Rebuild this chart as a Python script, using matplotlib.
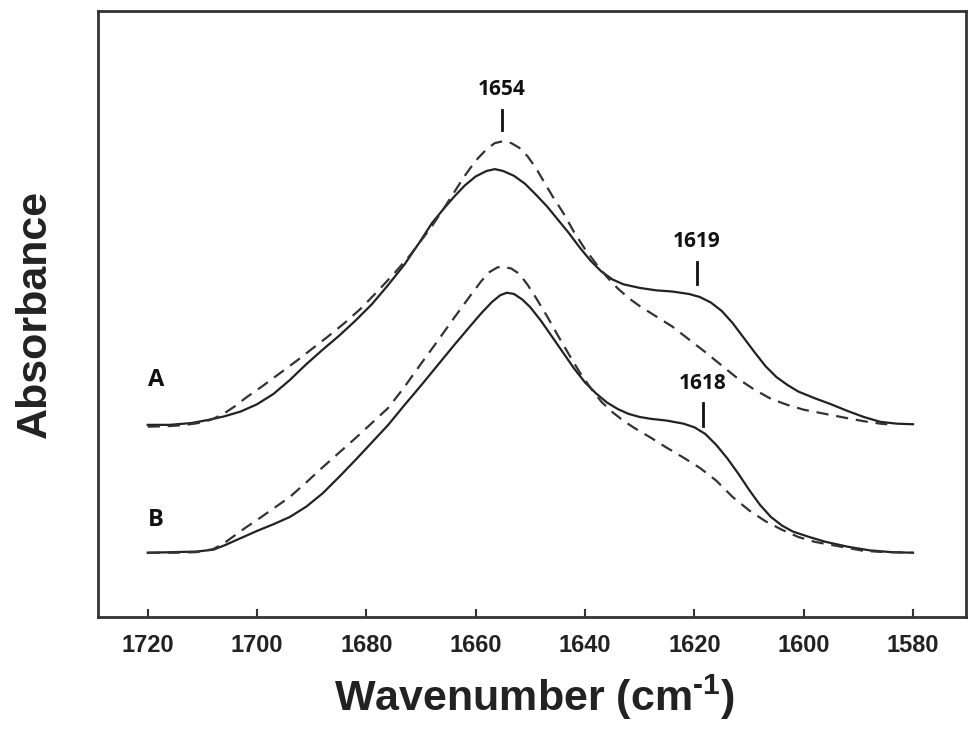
import matplotlib as mpl
import matplotlib.pyplot as plt
import numpy as np

mpl.rcParams['font.family'] = ['Liberation Sans', 'DejaVu Sans']
mpl.rcParams['mathtext.fontset'] = 'custom'
mpl.rcParams['mathtext.rm'] = 'Liberation Sans:bold'
mpl.rcParams['mathtext.bf'] = 'Liberation Sans:bold'

# spectrum A (upper) - wavenumber (cm-1) and absorbance (a.u.)
a_solid_wn = [1720, 1716, 1712, 1709, 1706, 1703, 1700, 1697, 1694, 1691, 1688, 1685, 1682,
              1679, 1676, 1673, 1670, 1668, 1666, 1664, 1662, 1660, 1658, 1656.5, 1655, 1653,
              1651, 1649, 1647, 1645, 1643, 1641, 1639, 1637, 1635, 1633, 1630, 1627, 1624,
              1621, 1619, 1617, 1615, 1613, 1611, 1609, 1607, 1605, 1603, 1601, 1598, 1595,
              1592, 1589, 1586, 1583, 1580]
a_solid = [0.317, 0.317, 0.320, 0.325, 0.331, 0.339, 0.351, 0.368, 0.391, 0.417, 0.441, 0.464, 0.489,
           0.516, 0.548, 0.582, 0.622, 0.650, 0.672, 0.693, 0.712, 0.727, 0.736, 0.739, 0.736, 0.728,
           0.715, 0.697, 0.678, 0.656, 0.634, 0.610, 0.588, 0.570, 0.557, 0.549, 0.543, 0.539, 0.537,
           0.533, 0.528, 0.519, 0.505, 0.485, 0.461, 0.437, 0.414, 0.396, 0.383, 0.372, 0.361, 0.351,
           0.340, 0.330, 0.322, 0.319, 0.318]

a_dash_wn = [1720, 1716, 1713, 1710, 1708, 1706, 1704, 1702, 1699, 1696, 1693, 1690, 1687, 1684,
             1681, 1678, 1675, 1672, 1670, 1668, 1666, 1664, 1662, 1660, 1658, 1656.5, 1655, 1653.5,
             1652, 1650.5, 1649, 1647.5, 1646, 1644, 1642, 1640, 1638, 1636, 1634, 1632, 1630, 1627,
             1624, 1621, 1618, 1615, 1612, 1609, 1606, 1603, 1600, 1596, 1592, 1589, 1586, 1584.7]
a_dash = [0.314, 0.315, 0.317, 0.321, 0.327, 0.336, 0.348, 0.362, 0.381, 0.401, 0.421, 0.442, 0.463, 0.485,
          0.509, 0.537, 0.566, 0.597, 0.621, 0.645, 0.672, 0.700, 0.728, 0.753, 0.772, 0.782, 0.785, 0.782,
          0.774, 0.760, 0.741, 0.718, 0.695, 0.667, 0.635, 0.607, 0.583, 0.561, 0.542, 0.526, 0.513, 0.496,
          0.479, 0.458, 0.437, 0.415, 0.393, 0.375, 0.360, 0.350, 0.342, 0.335, 0.328, 0.323, 0.319, 0.318]

# spectrum B (lower)
b_solid_wn = [1720, 1715, 1711, 1708, 1706, 1704, 1702, 1700, 1697, 1694, 1691, 1688, 1685, 1682,
              1679, 1676, 1673, 1670, 1667, 1664, 1661, 1659, 1657, 1655.5, 1654.3, 1653, 1651.5,
              1650, 1648, 1646, 1644, 1642, 1640, 1638, 1636, 1634, 1632, 1630, 1628, 1625, 1622,
              1620, 1618, 1616, 1614, 1612, 1610, 1608, 1606, 1604, 1602, 1599, 1596, 1592, 1588,
              1584, 1580]
b_solid = [0.106, 0.107, 0.108, 0.111, 0.118, 0.126, 0.134, 0.142, 0.153, 0.165, 0.182, 0.204, 0.231, 0.259,
           0.288, 0.317, 0.350, 0.382, 0.415, 0.448, 0.480, 0.501, 0.520, 0.531, 0.535, 0.533, 0.524,
           0.511, 0.488, 0.462, 0.436, 0.410, 0.387, 0.369, 0.354, 0.343, 0.335, 0.330, 0.327, 0.324, 0.319,
           0.313, 0.302, 0.284, 0.262, 0.237, 0.210, 0.185, 0.165, 0.151, 0.141, 0.132, 0.124, 0.116, 0.110,
           0.107, 0.106]

b_dash_wn = [1720, 1715, 1711, 1708, 1706, 1704, 1702, 1700, 1697, 1694, 1691, 1688, 1685, 1682,
             1679, 1676, 1673, 1670, 1667, 1664, 1661, 1659, 1657.5, 1656, 1655, 1653.5, 1652, 1650.5,
             1649, 1647, 1645, 1643, 1641, 1639, 1637, 1635, 1633, 1631, 1628, 1625, 1622, 1619,
             1616, 1613, 1610, 1607, 1604, 1601, 1598, 1595, 1592, 1589, 1585, 1580]
b_dash = [0.106, 0.106, 0.107, 0.112, 0.122, 0.135, 0.148, 0.160, 0.179, 0.198, 0.222, 0.247, 0.271, 0.295,
          0.320, 0.345, 0.380, 0.418, 0.455, 0.493, 0.530, 0.554, 0.569, 0.577, 0.578, 0.575, 0.566, 0.548,
          0.527, 0.497, 0.465, 0.434, 0.404, 0.378, 0.355, 0.338, 0.324, 0.312, 0.296, 0.279, 0.263, 0.246,
          0.225, 0.198, 0.176, 0.158, 0.144, 0.132, 0.124, 0.119, 0.114, 0.109, 0.107, 0.106]

# peak markers
peak_labels = ['1654', '1619', '1618']
peak_wn = [1655.2, 1619.5, 1618.4]
peak_lo = [0.804, 0.550, 0.315]
peak_hi = [0.837, 0.586, 0.353]
peak_text_y = [0.870, 0.619, 0.386]

xticks = [1720, 1700, 1680, 1660, 1640, 1620, 1600, 1580]

fig = plt.figure(figsize=(9.68, 7.31), dpi=100)
ax = fig.add_axes([0.1012, 0.156, 0.8968, 0.829])

ax.plot(a_solid_wn, a_solid, color='#222222', lw=1.6)
ax.plot(a_dash_wn, a_dash, color='#333333', lw=1.6, dashes=(5.5, 3.5))
ax.plot(b_solid_wn, b_solid, color='#222222', lw=1.6)
ax.plot(b_dash_wn, b_dash, color='#333333', lw=1.6, dashes=(5.5, 3.5))

for lab, x, lo, hi, ty in zip(peak_labels, peak_wn, peak_lo, peak_hi, peak_text_y):
    ax.plot([x, x], [lo, hi], color='#111111', lw=2)
    ax.text(x, ty, lab, ha='center', va='center', fontsize=15,
            fontweight='bold', family=['Open Sans', 'DejaVu Sans'], color='#111111')

ax.text(1720, 0.391, 'A', ha='left', va='center', fontsize=17,
        fontweight='bold', family=['Open Sans', 'DejaVu Sans'], color='#111111')
ax.text(1720, 0.160, 'B', ha='left', va='center', fontsize=17,
        fontweight='bold', family=['Open Sans', 'DejaVu Sans'], color='#111111')

ax.set_xlim(1729.1, 1570.3)
ax.set_ylim(0, 1)
ax.set_xticks(xticks)
ax.set_xticklabels([str(t) for t in xticks], fontsize=17, fontweight='bold', color='#222222')
ax.set_yticks([])
ax.tick_params(axis='x', direction='in', length=6, width=1.5, pad=12, color='#333333')
for sp in ax.spines.values():
    sp.set_linewidth(2)
    sp.set_color('#333333')

fig.text(35 / 968, 1 - 314 / 731, 'Absorbance', rotation=90, ha='center', va='center',
         fontsize=31, fontweight='bold', color='#222222')
fig.text(534 / 968, 1 - 697 / 731, 'Wavenumber (cm$^{\\text{-1}}$)', ha='center', va='center',
         fontsize=31, fontweight='bold', color='#222222')

fig.savefig('out.png', dpi=100)
